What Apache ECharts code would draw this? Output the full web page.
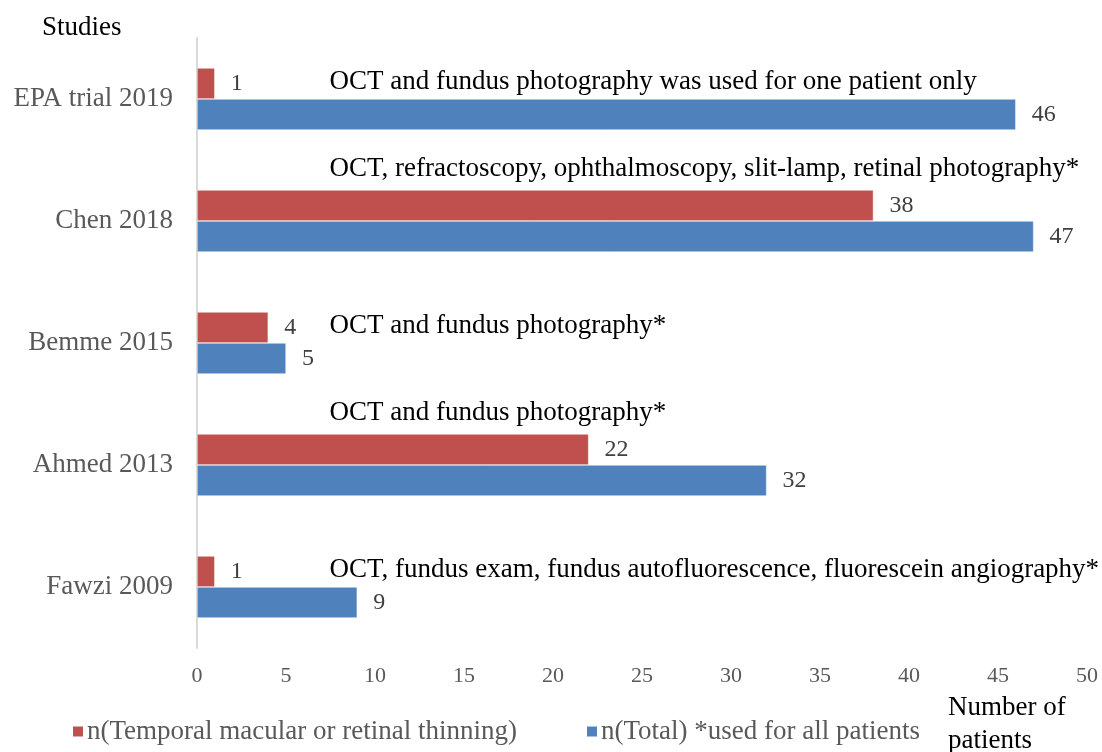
<!doctype html>
<html>
<head>
<meta charset="utf-8">
<title>Studies</title>
<script src="https://cdn.jsdelivr.net/npm/echarts@6/dist/echarts.min.js"></script>
<style>
html,body{margin:0;padding:0;background:#fff;}
#main{width:1102px;height:752px;}
</style>
</head>
<body>
<div id="main"></div>
<script type="text/javascript">
// bottom to top, as on the axis
var studies = ['Fawzi 2009', 'Ahmed 2013', 'Bemme 2015', 'Chen 2018', 'EPA trial 2019'];
var thinning = [1, 22, 4, 38, 1];
var total = [9, 32, 5, 47, 46];
var xTicks = [0, 50, 5];   // min, max, interval
var notes = [
	['EPA trial 2019', 'OCT and fundus photography was used for one patient only', 'bar'],
	['Chen 2018', 'OCT, refractoscopy, ophthalmoscopy, slit-lamp, retinal photography*', 'above'],
	['Bemme 2015', 'OCT and fundus photography*', 'bar'],
	['Ahmed 2013', 'OCT and fundus photography*', 'above'],
	['Fawzi 2009', 'OCT, fundus exam, fundus autofluorescence, fluorescein angiography*', 'bar']
];
var noteStartX = 7.45;

var serif = '"Liberation Serif", "DejaVu Serif", serif';
var nameRed = 'n(Temporal macular or retinal thinning)';
var nameBlue = 'n(Total) *used for all patients';

var chart = echarts.init(document.getElementById('main'));
var option = {
	animation: false,
	textStyle: {fontFamily: serif},
	grid: {left: 197, right: 15, top: 38, bottom: 104},
	legend: [
		{data: [nameRed], left: 66, top: 713, itemWidth: 12, itemHeight: 12, icon: 'rect', itemGap: 0,
			textStyle: {color: '#595959', fontSize: 27, fontFamily: serif, padding: [0, 0, 0, -2]}},
		{data: [nameBlue], left: 580, top: 713, itemWidth: 12, itemHeight: 12, icon: 'rect', itemGap: 0,
			textStyle: {color: '#595959', fontSize: 27, fontFamily: serif, padding: [0, 0, 0, -2]}}
	],
	xAxis: {
		type: 'value',
		min: xTicks[0], max: xTicks[1], interval: xTicks[2],
		axisLine: {show: false},
		axisTick: {show: false},
		splitLine: {show: false},
		axisLabel: {color: '#595959', fontSize: 22, margin: 17, fontFamily: serif}
	},
	yAxis: {
		type: 'category',
		data: studies,
		axisLine: {show: true, lineStyle: {color: '#d9d9d9', width: 2}},
		axisTick: {show: false},
		axisLabel: {color: '#595959', fontSize: 27, margin: 24, fontFamily: serif}
	},
	series: [
		{
			name: nameRed, type: 'bar', data: thinning,
			barWidth: 31, barGap: '0%',
			itemStyle: {color: '#c0504d', borderColor: '#ffffff', borderWidth: 0.5},
			label: {show: true, position: 'right', distance: 16, color: '#404040', fontSize: 24, fontFamily: serif}
		},
		{
			name: nameBlue, type: 'bar', data: total,
			barWidth: 31, barGap: '0%',
			itemStyle: {color: '#4f81bd', borderColor: '#ffffff', borderWidth: 0.5},
			label: {show: true, position: 'right', distance: 16, color: '#404040', fontSize: 24, fontFamily: serif}
		}
	]
};
chart.setOption(option);

// annotation texts, placed from the axes
var graphics = [];
notes.forEach(function (n, i) {
	var p = chart.convertToPixel({gridIndex: 0}, [noteStartX, n[0]]);
	var cy = n[2] === 'bar' ? p[1] - 17 : p[1] - 52;
	graphics.push({
		type: 'text', id: 'note' + i, x: p[0], y: cy, z: 10,
		style: {text: n[1], fill: '#000', font: '27px ' + serif, verticalAlign: 'middle'}
	});
});
graphics.push({type: 'text', id: 'ytitle', x: 42, y: 28, style: {text: 'Studies', fill: '#000', font: '27px ' + serif, verticalAlign: 'middle'}});
graphics.push({type: 'text', id: 'xtitle', x: 948, y: 691, style: {text: 'Number of\npatients', fill: '#000', font: '27px ' + serif, lineHeight: 33}});
chart.setOption({graphic: graphics});
</script>
</body>
</html>
